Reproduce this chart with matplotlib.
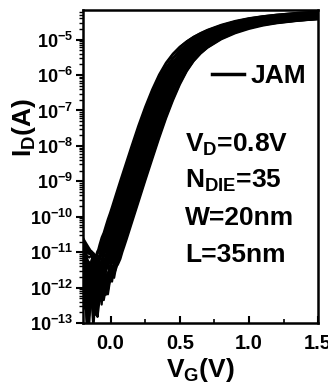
import numpy as np
import matplotlib
matplotlib.use("Agg")
import matplotlib.pyplot as plt
from matplotlib.ticker import FixedLocator, FixedFormatter, LogLocator, NullFormatter, MultipleLocator

plt.rcParams['font.family'] = ['Liberation Sans', 'DejaVu Sans']
plt.rcParams['font.weight'] = 'bold'
plt.rcParams['axes.labelweight'] = 'bold'
plt.rcParams['mathtext.fontset'] = 'custom'
plt.rcParams['mathtext.rm'] = 'Liberation Sans:bold'
plt.rcParams['mathtext.bf'] = 'Liberation Sans:bold'
plt.rcParams['mathtext.it'] = 'Liberation Sans:bold'
plt.rcParams['mathtext.sf'] = 'Liberation Sans:bold'

# ---- data ----
# nominal (median) transfer curve: gate voltage (V) and log10 drain current (A)
base_vg = [-0.30, -0.20, -0.10, -0.05, 0.00, 0.05, 0.10, 0.15, 0.20, 0.25, 0.30,
           0.35, 0.40, 0.45, 0.50, 0.55, 0.60, 0.65, 0.70, 0.80, 0.90, 1.00,
           1.10, 1.20, 1.35, 1.50, 1.60]
base_logid = [-14.6, -13.4, -12.2, -11.57, -10.95, -10.33, -9.72, -9.10, -8.50, -7.90, -7.32,
              -6.80, -6.33, -5.93, -5.62, -5.39, -5.21, -5.07, -4.95, -4.77, -4.64, -4.54,
              -4.47, -4.42, -4.36, -4.32, -4.30]

# per-die threshold shift (V) for the 35 dies
die_dvt = [-0.085, -0.079, -0.074, -0.068, -0.063, -0.058, -0.052, -0.048, -0.042, -0.037,
           -0.032, -0.027, -0.022, -0.017, -0.013, -0.007, -0.003, 0.002, 0.007, 0.012,
           0.016, 0.022, 0.026, 0.031, 0.036, 0.040, 0.045, 0.059, 0.064, 0.068,
           0.071, 0.075, 0.078, 0.082, 0.086]
# per-die on-current offset (decades)
die_dlog = [0.06, -0.04, 0.09, 0.02, -0.08, 0.05, -0.02, 0.10, -0.06, 0.03,
            -0.09, 0.07, 0.00, -0.05, 0.08, -0.03, 0.04, -0.10, 0.06, -0.01,
            0.09, -0.07, 0.02, -0.04, 0.07, -0.09, 0.03, 0.05, -0.06, 0.10,
            -0.02, 0.04, -0.08, 0.01, -0.05]

# off-state (noise floor) readings, log10 A, at these gate voltages
off_vg = [-0.20, -0.185, -0.17, -0.155, -0.14, -0.125, -0.11, -0.095, -0.08, -0.065,
          -0.05, -0.035, -0.02, -0.005, 0.01, 0.025, 0.04, 0.055, 0.07, 0.085, 0.10, 0.115]
off_p0 = [-10.9, -11.2, -11.5, -12.1, -11.6, -11.4, -11.9, -12.8, -11.8, -11.5, -12.2, -11.7, -11.4, -12.0, -12.9, -11.9, -11.6, -12.3, -13.2, -12.0, -12.4, -12.1]
off_p1 = [-11.6, -12.4, -11.8, -11.5, -12.0, -13.2, -12.1, -11.7, -11.9, -12.6, -11.6, -12.2, -13.2, -12.0, -11.8, -12.4, -13.1, -12.1, -12.3, -13.3, -12.2, -12.6]
off_p2 = [-10.7, -10.8, -10.9, -11.0, -11.1, -11.2, -11.6, -11.5, -12.2, -11.7, -11.4, -11.9, -12.4, -11.6, -12.0, -12.8, -11.9, -12.2, -12.9, -12.3, -12.5, -13.2]
off_p3 = [-12.3, -11.7, -12.7, -13.3, -12.1, -11.9, -12.4, -11.8, -12.8, -13.3, -12.0, -11.9, -12.6, -12.2, -13.2, -12.3, -12.0, -12.7, -13.3, -12.5, -12.2, -12.8]
off_p4 = [-11.3, -11.5, -11.9, -11.6, -12.4, -11.8, -11.6, -13.0, -12.0, -11.7, -12.5, -13.2, -11.9, -11.8, -12.3, -12.0, -13.2, -12.4, -12.1, -12.7, -13.3, -12.5]
off_p5 = [-11.9, -12.3, -12.0, -12.9, -11.7, -12.5, -13.3, -12.2, -11.9, -12.1, -13.0, -12.3, -12.0, -12.8, -12.1, -13.3, -12.4, -12.2, -12.9, -12.3, -12.6, -13.3]
off_p6 = [-10.8, -10.9, -11.0, -11.05, -11.0, -11.1, -11.3, -11.7, -11.6, -11.9, -11.5, -12.1, -11.8, -12.5, -11.9, -12.2, -12.8, -12.0, -12.4, -13.1, -12.3, -12.6]
off_p7 = [-12.6, -12.1, -13.3, -12.4, -12.0, -12.9, -12.3, -13.3, -12.5, -12.2, -13.0, -12.4, -13.3, -12.3, -12.1, -12.9, -12.5, -13.2, -12.4, -12.8, -13.3, -12.5]
off_patterns = [off_p0, off_p1, off_p2, off_p3, off_p4, off_p5, off_p6, off_p7]
die_off_shift = [0.0, 0.1, 0.0, -0.2, 0.2, 0.1, 0.0, -0.1, 0.3, -0.2,
                 0.1, 0.0, -0.3, 0.2, 0.0, 0.1, -0.1, 0.2, 0.0, 0.1,
                 -0.2, 0.3, 0.0, -0.1, 0.2, 0.0, -0.3, 0.1, 0.0, 0.2,
                 -0.1, 0.0, 0.1, -0.2, 0.0]

x_ticks = [0.0, 0.5, 1.0, 1.5]
x_ticklabels = ['0.0', '0.5', '1.0', '1.5']
y_exponents = [-13, -12, -11, -10, -9, -8, -7, -6, -5]
annotations = [r'V$_{\rm D}$=0.8V', r'N$_{\rm DIE}$=35', 'W=20nm', 'L=35nm']

# ---- figure ----
fig = plt.figure(figsize=(3.28, 3.87), dpi=100)
ax = fig.add_axes([0.253, 0.165, 0.717, 0.809])

vg = np.array(sorted(set(base_vg) | set(off_vg)))
bvg = np.array(base_vg)
blog = np.array(base_logid)
ovg = np.array(off_vg)
for i in range(len(die_dvt)):
    on = np.interp(vg - die_dvt[i], bvg, blog) + die_dlog[i]
    pat = np.array(off_patterns[i % len(off_patterns)]) + die_off_shift[i]
    off = np.interp(vg, ovg, pat, right=-16.0)
    total = np.log10(10.0 ** on + 10.0 ** off)
    ax.plot(vg, 10.0 ** total, color='black', lw=1.6,
            label='JAM' if i == 0 else None)

ax.set_yscale('log')
ax.set_xlim(-0.2, 1.5)
ax.set_ylim(1e-13, 6.8e-5)

ax.yaxis.set_major_locator(FixedLocator([10.0 ** e for e in y_exponents]))
ax.yaxis.set_major_formatter(FixedFormatter([r'10$^{%d}$' % e for e in y_exponents]))
ax.yaxis.set_minor_locator(LogLocator(base=10, subs=np.arange(2, 10), numticks=20))
ax.yaxis.set_minor_formatter(NullFormatter())
ax.xaxis.set_major_locator(FixedLocator(x_ticks))
ax.xaxis.set_major_formatter(FixedFormatter(x_ticklabels))
ax.xaxis.set_minor_locator(MultipleLocator(0.25))

ax.tick_params(axis='y', which='major', direction='out', length=5, width=1.5, labelsize=13, pad=2)
ax.tick_params(axis='y', which='minor', direction='out', length=3, width=1.0)
ax.tick_params(axis='x', which='major', direction='in', length=5, width=1.5, labelsize=14.5, pad=8)
ax.tick_params(axis='x', which='minor', direction='in', length=3, width=1.2)
ax.tick_params(top=False, right=False, which='both')
for s in ax.spines.values():
    s.set_linewidth(1.8)

ax.set_xlabel(r'V$_{\rm G}$(V)', fontsize=19, labelpad=2)
ax.set_ylabel(r'I$_{\rm D}$(A)', fontsize=19)
ax.yaxis.set_label_coords(-0.19, 0.625)

leg = ax.legend(loc='center', bbox_to_anchor=(0.75, 0.79), frameon=False,
                fontsize=19, handlelength=1.2, handletextpad=0.25)
for h in leg.legend_handles:
    h.set_linewidth(2.5)

for k, t in enumerate(annotations):
    ax.text(0.435, 0.57 - k * 0.117, t, transform=ax.transAxes, fontsize=19,
            ha='left', va='center')

fig.savefig('out.png', dpi=100)
